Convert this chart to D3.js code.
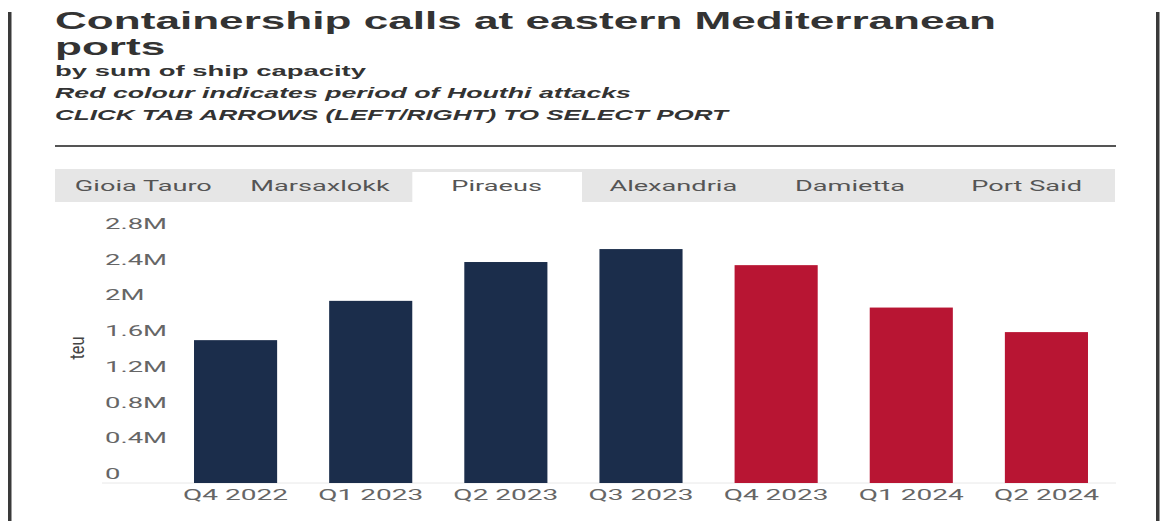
<!DOCTYPE html>
<html>
<head>
<meta charset="utf-8">
<script src="https://cdn.jsdelivr.net/npm/d3@7"></script>
<style>
  html, body { margin: 0; padding: 0; background: #fff; }
  svg { display: block; }
</style>
</head>
<body>
<svg id="chart" width="1164" height="521"></svg>
<script>
// Quarterly containership capacity calling at Piraeus (TEU)
const quarters = ["Q4 2022", "Q1 2023", "Q2 2023", "Q3 2023", "Q4 2023", "Q1 2024", "Q2 2024"];
const teu = [1600000, 2040000, 2475000, 2620000, 2440000, 1965000, 1690000];
const houthiPeriod = [false, false, false, false, true, true, true];
const ports = ["Gioia Tauro", "Marsaxlokk", "Piraeus", "Alexandria", "Damietta", "Port Said"];
const selectedPort = "Piraeus";
const yTicks = [0, 400000, 800000, 1200000, 1600000, 2000000, 2400000, 2800000];
const titleLines = ["Containership calls at eastern Mediterranean", "ports"];

const svg = d3.select("#chart");
const W = 1164, H = 521;
const NAVY = "#1b2d4b", RED = "#b81533";

// stretch text horizontally so that a reference width is reached
function stretch(sel, k) {
  sel.each(function () {
    const w = this.getComputedTextLength();
    d3.select(this).attr("textLength", w * k).attr("lengthAdjust", "spacingAndGlyphs");
  });
}
function factorFor(sel, target) {
  return target / sel.node().getComputedTextLength();
}

// side frame bars
svg.append("rect").attr("x", 8).attr("y", 12).attr("width", 3.5).attr("height", H - 12).attr("fill", "#3a3a3a");
svg.append("rect").attr("x", 1156).attr("y", 12).attr("width", 3.5).attr("height", H - 12).attr("fill", "#3a3a3a");

// header: two-line title
const head = svg.append("g").attr("font-family", "'Liberation Sans', Arial, sans-serif").attr("fill", "#333");
const title = head.append("text").attr("font-size", 24).attr("font-weight", 700);
const titleSpans = title.selectAll("tspan").data(titleLines).join("tspan")
  .attr("x", 55)
  .attr("y", (d, i) => 28.5 + i * 26.5)
  .text(d => d);
const kTitle = 941 / titleSpans.nodes()[0].getComputedTextLength();
titleSpans.each(function () {
  const w = this.getComputedTextLength();
  d3.select(this).attr("textLength", w * kTitle).attr("lengthAdjust", "spacingAndGlyphs");
});

const s1 = head.append("text").attr("x", 55).attr("y", 76).attr("font-size", 15).attr("font-weight", 700)
  .text("by sum of ship capacity");
stretch(s1, factorFor(s1, 311));
const s2 = head.append("text").attr("x", 55).attr("y", 98).attr("font-size", 15).attr("font-weight", 700)
  .attr("font-style", "italic").text("Red colour indicates period of Houthi attacks");
stretch(s2, factorFor(s2, 576));
const s3 = head.append("text").attr("x", 55).attr("y", 120).attr("font-size", 15).attr("font-weight", 700)
  .attr("font-style", "italic").text("CLICK TAB ARROWS (LEFT/RIGHT) TO SELECT PORT");
stretch(s3, factorFor(s3, 673));

svg.append("line").attr("x1", 55).attr("x2", 1116).attr("y1", 146).attr("y2", 146)
  .attr("stroke", "#555").attr("stroke-width", 2);

// port tabs
const tabX = d3.scaleBand().domain(ports).range([55, 1115]);
const tabs = svg.append("g").attr("font-family", "Roboto, sans-serif");
tabs.append("rect").attr("x", 55).attr("y", 169).attr("width", 1060).attr("height", 33).attr("fill", "#e6e6e6");
tabs.append("rect")
  .attr("x", tabX(selectedPort) + 4).attr("y", 172)
  .attr("width", tabX.bandwidth() - 7).attr("height", 30).attr("fill", "#fff");
const tabText = tabs.selectAll("text.tab").data(ports).join("text")
  .attr("class", "tab")
  .attr("x", d => tabX(d) + tabX.bandwidth() / 2)
  .attr("y", 191)
  .attr("text-anchor", "middle")
  .attr("font-size", 14)
  .attr("fill", "#555")
  .text(d => d);
stretch(tabText, factorFor(tabText.filter(d => d === "Gioia Tauro"), 137));

// plot
const x = d3.scaleBand().domain(quarters).range([168, 1114]).paddingInner(0.385).paddingOuter(0.1925);
const y = d3.scaleLinear().domain([0, 2800000]).range([483, 233]);

const fmt = v => v === 0 ? "0" : (+(v / 1e6).toFixed(1)) + "M";

const yLab = svg.append("g").attr("font-family", "Roboto, sans-serif").selectAll("text")
  .data(yTicks).join("text")
  .attr("x", 105)
  .attr("y", d => y(d) - 4)
  .attr("font-size", 14)
  .attr("fill", "#666")
  .text(fmt);
stretch(yLab, factorFor(yLab.filter(d => d === 2800000), 62));

// baseline
svg.append("line").attr("x1", 102).attr("x2", 1116).attr("y1", y(0)).attr("y2", y(0))
  .attr("stroke", "#e8e8e8").attr("stroke-width", 1);

svg.append("g").selectAll("rect").data(quarters).join("rect")
  .attr("x", d => x(d))
  .attr("width", x.bandwidth())
  .attr("y", (d, i) => y(teu[i]))
  .attr("height", (d, i) => y(0) - y(teu[i]))
  .attr("fill", (d, i) => houthiPeriod[i] ? RED : NAVY);

const xAxis = svg.append("g").attr("transform", `translate(0,${y(0)})`)
  .call(d3.axisBottom(x).tickSize(0).tickPadding(6));
xAxis.select(".domain").remove();
const xLab = xAxis.selectAll("text")
  .attr("font-family", "Roboto, sans-serif").attr("font-size", 15).attr("fill", "#666");
stretch(xLab, factorFor(xLab.filter(d => d === "Q4 2022"), 105));

// axis title
const yt = svg.append("text")
  .attr("transform", "translate(84,348) rotate(-90)")
  .attr("text-anchor", "middle")
  .attr("font-family", "Roboto, sans-serif")
  .attr("font-size", 20)
  .attr("fill", "#444")
  .text("teu");
stretch(yt, factorFor(yt, 23));
</script>
</body>
</html>
